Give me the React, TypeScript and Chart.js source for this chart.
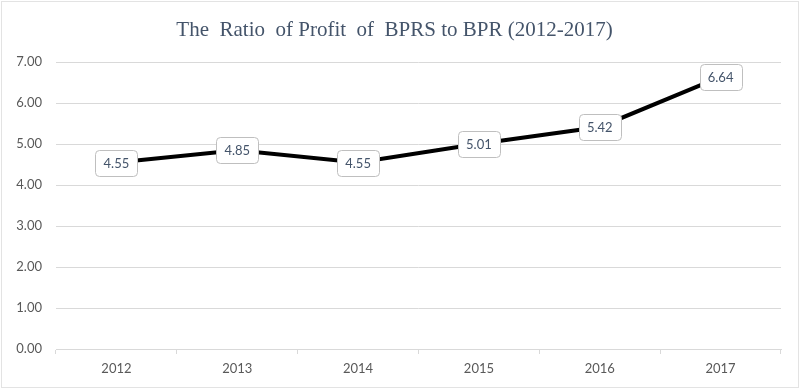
import React, { useEffect, useRef } from "react";
import { Chart, registerables } from "chart.js";

Chart.register(...registerables);

const years = ["2012", "2013", "2014", "2015", "2016", "2017"];
const ratios = [4.55, 4.85, 4.55, 5.01, 5.42, 6.64];
const titleText = "The  Ratio  of Profit  of  BPRS to BPR (2012-2017)";

const labelBoxes = {
  id: "labelBoxes",
  afterDatasetsDraw(chart: any) {
    const ctx = chart.ctx;
    const meta = chart.getDatasetMeta(0);
    ctx.save();
    ctx.font = "13px Lato, 'Open Sans', sans-serif";
    ctx.textAlign = "center";
    ctx.textBaseline = "middle";
    meta.data.forEach((pt: any, i: number) => {
      const text = ratios[i].toFixed(2);
      const w = 42;
      const h = 26;
      const x = Math.round(pt.x - w / 2);
      const y = Math.round(pt.y - h / 2);
      ctx.beginPath();
      ctx.roundRect(x + 0.5, y + 0.5, w, h, 4);
      ctx.fillStyle = "#ffffff";
      ctx.fill();
      ctx.strokeStyle = "#bfbfbf";
      ctx.lineWidth = 1;
      ctx.stroke();
      ctx.fillStyle = "#44546a";
      ctx.fillText(text, pt.x, pt.y + 1);
    });
    ctx.restore();
  },
};

const frame = {
  id: "frame",
  beforeDraw(chart: any) {
    const ctx = chart.ctx;
    ctx.save();
    ctx.fillStyle = "#ffffff";
    ctx.fillRect(0, 0, chart.width, chart.height);
    ctx.strokeStyle = "#e3e3e3";
    ctx.lineWidth = 1;
    ctx.strokeRect(1.5, 1.5, chart.width - 3, chart.height - 3);
    ctx.restore();
  },
};

export default function App() {
  const ref = useRef<HTMLCanvasElement>(null);
  useEffect(() => {
    document.body.style.margin = "0";
    const chart = new Chart(ref.current!, {
      type: "line",
      data: {
        labels: years,
        datasets: [
          {
            data: ratios,
            borderColor: "#000000",
            borderWidth: 4,
            pointRadius: 0,
            tension: 0,
          },
        ],
      },
      options: {
        animation: false,
        responsive: false,
        layout: { padding: { left: 8, right: 19, top: 18, bottom: 6 } },
        plugins: {
          legend: { display: false },
          tooltip: { enabled: false },
          title: {
            display: true,
            text: titleText,
            color: "#44546a",
            font: { family: "'Liberation Serif', 'Times New Roman', serif", size: 21, weight: "normal" },
            padding: { top: 0, bottom: 19 },
          },
        },
        scales: {
          x: {
            offset: true,
            afterFit: (s: any) => {
              s.height = 34;
            },
            grid: {
              offset: true,
              drawOnChartArea: false,
              drawTicks: true,
              tickLength: 5,
              color: "#d9d9d9",
            },
            border: { display: true, color: "#d9d9d9" },
            ticks: {
              color: "#595959",
              font: { family: "Lato, 'Open Sans', sans-serif", size: 13 },
              padding: 7,
            },
          },
          y: {
            min: 0,
            max: 7,
            afterFit: (s: any) => {
              s.width = 48;
            },
            grid: { color: "#d9d9d9", drawTicks: false },
            border: { display: false },
            ticks: {
              stepSize: 1,
              color: "#595959",
              padding: 14,
              font: { family: "Lato, 'Open Sans', sans-serif", size: 13 },
              callback: (v: any) => Number(v).toFixed(2),
            },
          },
        },
      },
      plugins: [frame, labelBoxes],
    });
    return () => chart.destroy();
  }, []);
  return <canvas ref={ref} width={800} height={389} style={{ display: "block" }} />;
}
